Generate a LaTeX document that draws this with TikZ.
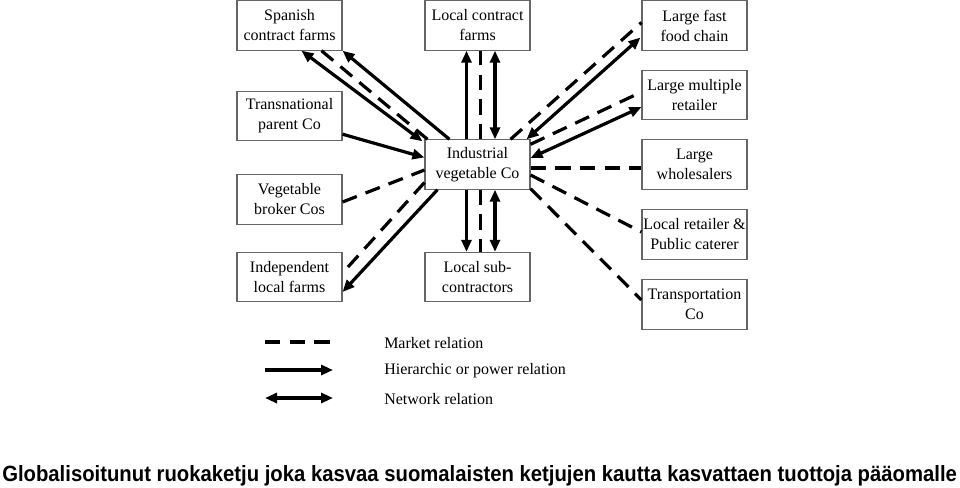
\documentclass[tikz,border=0pt]{standalone}
\usepackage{fontspec}
\usepackage{graphicx}
\setmainfont{Liberation Serif}
\newfontfamily\titlefont{Liberation Sans}
\usetikzlibrary{calc, arrows.meta}

\begin{document}
\begin{tikzpicture}[x=0.75pt, y=-0.75pt,
    box/.style={draw=black!60, line width=0.8pt, minimum width=78.75pt, minimum height=37pt,
        inner sep=0pt, align=center, font=\fontsize{12}{15}\selectfont},
    rel/.style={line width=2.4pt, black},
    market/.style={rel, dash pattern=on 11.5pt off 7pt},
    power/.style={rel, -{Triangle[length=9pt,width=7.5pt]}},
    network/.style={rel, {Triangle[length=9pt,width=7.5pt]}-{Triangle[length=9pt,width=7.5pt]}},
    legtext/.style={anchor=west, inner sep=0pt, font=\fontsize{12}{15}\selectfont}]
    \useasboundingbox (0,0) rectangle (960,487);

    % Left column
    \node[box] (sp) at (289.5,25.5) {Spanish\\contract farms};
    \node[box] (tn) at (289.5,116) {Transnational\\parent Co};
    \node[box] (bk) at (289.5,199.5) {Vegetable\\broker Cos};
    \node[box] (il) at (289.5,277) {Independent\\local farms};

    % Middle column
    \node[box] (lc) at (477.5,25.5) {Local contract\\farms};
    \node[box] (ind) at (477.5,164.5) {Industrial\\vegetable Co};
    \node[box] (ls) at (477.5,277) {Local sub-\\contractors};

    % Right column
    \node[box] (ff) at (694.5,25.5) {Large fast\\food chain};
    \node[box] (mr) at (694.5,95) {Large multiple\\retailer};
    \node[box] (wh) at (694.5,164.5) {Large\\wholesalers};
    \node[box] (lr) at (694.5,234.5) {Local retailer \&\\Public caterer};
    \node[box] (tc) at (694.5,304.5) {Transportation\\Co};

    % Relations to the left
    \draw[network] ($(sp.south west)+(65,0)$) -- ($(ind.north west)+(-2,2)$);
    \draw[market] ($(sp.south west)+(85,0)$) -- ($(ind.north west)+(3,0)$);
    \draw[power] ($(ind.north west)+(25,0)$) -- (sp.south east);
    \draw[power] ($(tn.south east)+(0,-7)$) -- ($(ind.west)+(0,-7)$);
    \draw[market] ($(bk.east)+(0,2.5)$) -- ($(ind.west)+(0,5.5)$);
    \draw[market] ($(ind.west)+(0,18)$) -- ($(il.east)+(0,-4)$);
    \draw[power] ($(ind.south west)+(13,0)$) -- ($(il.east)+(0,15)$);

    % Relations up and down
    \draw[power] ($(ind.north)+(-11,0)$) -- ($(lc.south)+(-11,0)$);
    \draw[market] ($(ind.north)+(3,0)$) -- ($(lc.south)+(3,0)$);
    \draw[network] ($(ind.north)+(17.5,0)$) -- ($(lc.south)+(17.5,0)$);
    \draw[power] ($(ind.south)+(-11,0)$) -- ($(ls.north)+(-11,0)$);
    \draw[market] ($(ind.south)+(3,0)$) -- ($(ls.north)+(3,0)$);
    \draw[network] ($(ind.south)+(17.5,0)$) -- ($(ls.north)+(17.5,0)$);

    % Relations to the right
    \draw[market] ($(ind.north east)+(-20,0)$) -- ($(ff.west)+(0,-3)$);
    \draw[network] ($(ind.north east)+(-4,0)$) -- ($(ff.west)+(-1,12)$);
    \draw[market] ($(ind.north east)+(0,5)$) -- ($(mr.west)+(0,-3)$);
    \draw[network] ($(ind.east)+(0,-6.5)$) -- ($(mr.west)+(0,12)$);
    \draw[market] ($(ind.east)+(0,3.5)$) -- ($(wh.west)+(0,3.5)$);
    \draw[market] ($(ind.east)+(0,10.5)$) -- ($(lr.west)+(0,-2.5)$);
    \draw[market] ($(ind.south east)+(0,-1)$) -- ($(tc.west)+(0,-4.5)$);

    % Legend
    \coordinate (m1) at (265,342); \coordinate (m2) at (330,342);
    \coordinate (h1) at (265,370); \coordinate (h2) at (333,370);
    \coordinate (n1) at (265,398); \coordinate (n2) at (333,398);
    \draw[market] (m1) -- (m2);
    \draw[power] (h1) -- (h2);
    \draw[network] (n1) -- (n2);
    \node[legtext] (lm) at (384,343) {Market relation};
    \node[legtext] (lh) at (384,371) {Hierarchic or power relation};
    \node[legtext] (ln) at (384,399) {Network relation};

    % Title
    \node[anchor=base west, inner sep=0pt] (title) at (2,481)
        {\resizebox{716pt}{12pt}{\titlefont\bfseries Globalisoitunut ruokaketju joka kasvaa suomalaisten ketjujen kautta kasvattaen tuottoja pääomalle}};
\end{tikzpicture}
\end{document}
